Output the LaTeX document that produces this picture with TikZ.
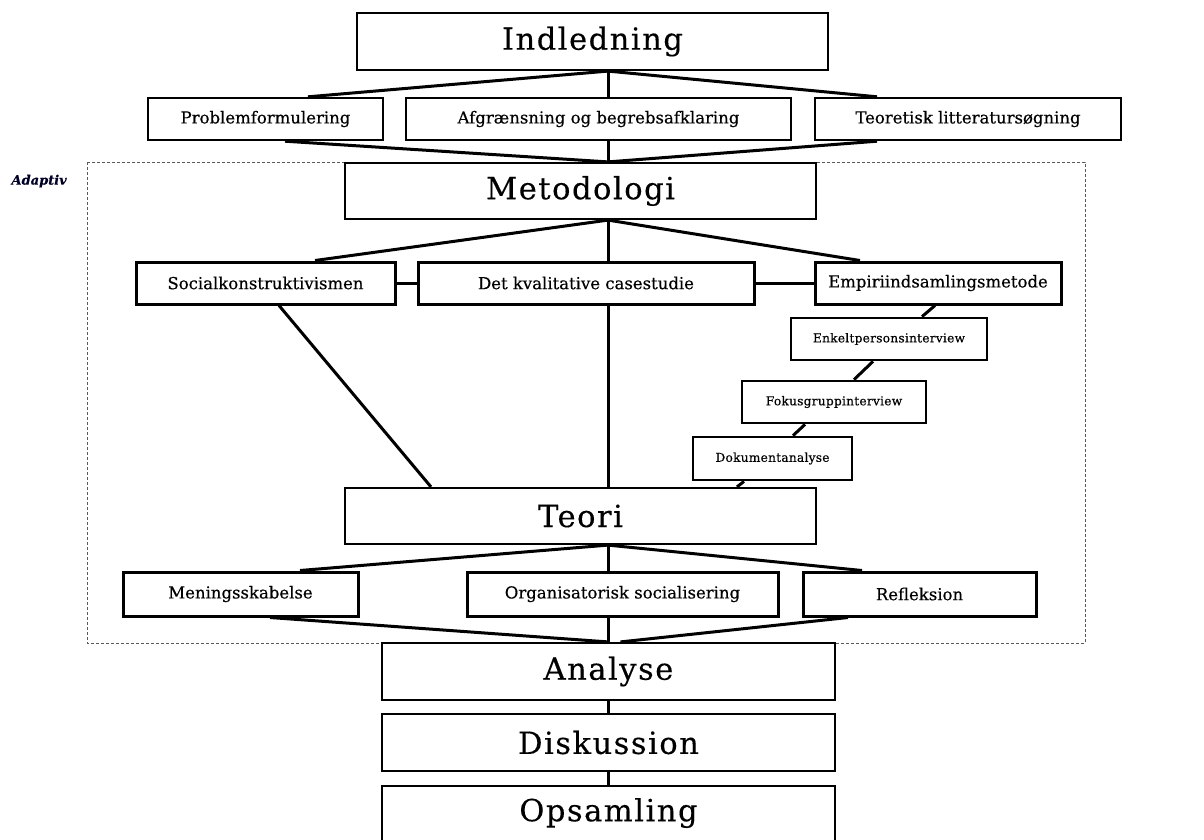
\documentclass[tikz,border=0pt]{standalone}
\usepackage{fontspec}
\setmainfont{DejaVu Serif}
\newfontfamily\bigf[LetterSpace=5,FakeBold=0.3]{DejaVu Serif}
\newfontfamily\medf[LetterSpace=0,FakeBold=0.4]{DejaVu Serif}
\newfontfamily\smlf[LetterSpace=2,FakeBold=0.4]{DejaVu Serif}
\newfontfamily\adf[FakeBold=0.3]{DejaVu Serif}
\usetikzlibrary{calc}
\tikzset{
  box/.style={draw=black, rectangle, inner sep=0pt, fill=white},
  bigbox/.style={box, line width=2.2pt, font=\bigf\fontsize{30.5}{34}\selectfont},
  medbox/.style={box, line width=2.4pt, font=\medf\fontsize{16.5}{20}\selectfont},
  thkbox/.style={box, line width=3pt, font=\medf\fontsize{16.5}{20}\selectfont},
  smlbox/.style={box, line width=2.8pt, font=\smlf\fontsize{12.2}{15}\selectfont},
  conn/.style={draw=black, line width=3pt},
}
\begin{document}
\begin{tikzpicture}[x=1pt,y=-1pt]
\useasboundingbox (0,0) rectangle (1204,839);
% dashed frame
\draw[gray!70!black, line width=1pt, dash pattern=on 3pt off 2pt] (87,162) rectangle (1085,643);
\node[font=\adf\fontsize{13}{16}\selectfont\bfseries\itshape, anchor=west, text=black!85!blue] (adap) at (8,181) {Adaptiv};

\coordinate (sp) at (608,0);

\node[bigbox, minimum width=471pt, minimum height=57pt] (ind) at (592.5,41.5) {Indledning};
\node[medbox, minimum width=235pt, minimum height=42pt] (prob) at (265.5,119) {Problemformulering};
\node[medbox, minimum width=385pt, minimum height=42pt] (afg) at (598.5,119) {Afgrænsning og begrebsafklaring};
\node[medbox, minimum width=306pt, minimum height=42pt] (teo) at (968,119) {Teoretisk litteratursøgning};
\node[bigbox, minimum width=471pt, minimum height=56pt] (met) at (580.5,191) {Metodologi};
\node[thkbox, minimum width=259pt, minimum height=42pt] (soc) at (265.5,283) {Socialkonstruktivismen};
\node[thkbox, minimum width=336pt, minimum height=42pt] (det) at (586,283) {Det kvalitative casestudie};
\node[thkbox, minimum width=246pt, minimum height=42pt] (emp) at (938,283) {Empiriindsamlingsmetode};
\node[smlbox, minimum width=196pt, minimum height=42pt] (enk) at (889,339) {Enkeltpersonsinterview};
\node[smlbox, minimum width=184pt, minimum height=42pt] (fok) at (834,402) {Fokusgruppinterview};
\node[smlbox, minimum width=159pt, minimum height=43pt] (dok) at (772.5,458.5) {Dokumentanalyse};
\node[bigbox, minimum width=471pt, minimum height=56pt] (teori) at (580.5,516) {Teori};
\node[thkbox, minimum width=235pt, minimum height=44pt] (men) at (240.5,594) {Meningsskabelse};
\node[thkbox, minimum width=311pt, minimum height=44pt] (org) at (622.5,594) {Organisatorisk socialisering};
\node[thkbox, minimum width=233pt, minimum height=44pt] (ref) at (919.5,594) {Refleksion};
\node[bigbox, minimum width=453pt, minimum height=57pt] (ana) at (608.5,671.5) {Analyse};
\node[bigbox, minimum width=453pt, minimum height=57pt] (dis) at (608.5,742.5) {Diskussion};
\node[bigbox, minimum width=453pt, minimum height=80pt, anchor=north] (ops) at (608.5,785) {};
\node[font=\bigf\fontsize{30.5}{34}\selectfont] (opst) at (608.5,813) {Opsamling};

% connectors
\draw[conn] (ind.south -| sp) -- ([xshift=42.5pt]prob.north);
\draw[conn] (ind.south -| sp) -- (afg.north -| sp);
\draw[conn] (ind.south -| sp) -- ([xshift=-91pt]teo.north);
\draw[conn] ([xshift=19.5pt]prob.south) -- (met.north -| sp);
\draw[conn] (afg.south -| sp) -- (met.north -| sp);
\draw[conn] ([xshift=-91pt]teo.south) -- (met.north -| sp);

\draw[conn] (met.south -| sp) -- ([xshift=49.5pt]soc.north);
\draw[conn] (met.south -| sp) -- (det.north -| sp);
\draw[conn] (met.south -| sp) -- ([xshift=-78pt]emp.north);
\draw[conn] (soc.east) -- (det.west);
\draw[conn] (det.east) -- (emp.west);

\draw[conn] ([xshift=13.5pt]soc.south) -- ([xshift=-149.5pt]teori.north);
\draw[conn] (det.south -| sp) -- (teori.north -| sp);
\draw[conn] ([xshift=-3pt]emp.south) -- ([xshift=33pt]enk.north);
\draw[conn] ([xshift=-16pt]enk.south) -- ([xshift=20pt]fok.north);
\draw[conn] ([xshift=-29pt]fok.south) -- ([xshift=20.5pt]dok.north);
\draw[conn] ([xshift=-28.5pt]dok.south) -- ([xshift=156.5pt]teori.north);

\draw[conn] (teori.south -| sp) -- ([xshift=59.5pt]men.north);
\draw[conn] (teori.south -| sp) -- (org.north -| sp);
\draw[conn] (teori.south -| sp) -- ([xshift=-57.5pt]ref.north);
\draw[conn] ([xshift=29.5pt]men.south) -- (ana.north -| sp);
\draw[conn] (org.south -| sp) -- (ana.north -| sp);
\draw[conn] ([xshift=-71.5pt]ref.south) -- ([xshift=12pt]ana.north);
\draw[conn] (ana.south -| sp) -- (dis.north -| sp);
\draw[conn] (dis.south -| sp) -- (ops.north -| sp);
\end{tikzpicture}
\end{document}
